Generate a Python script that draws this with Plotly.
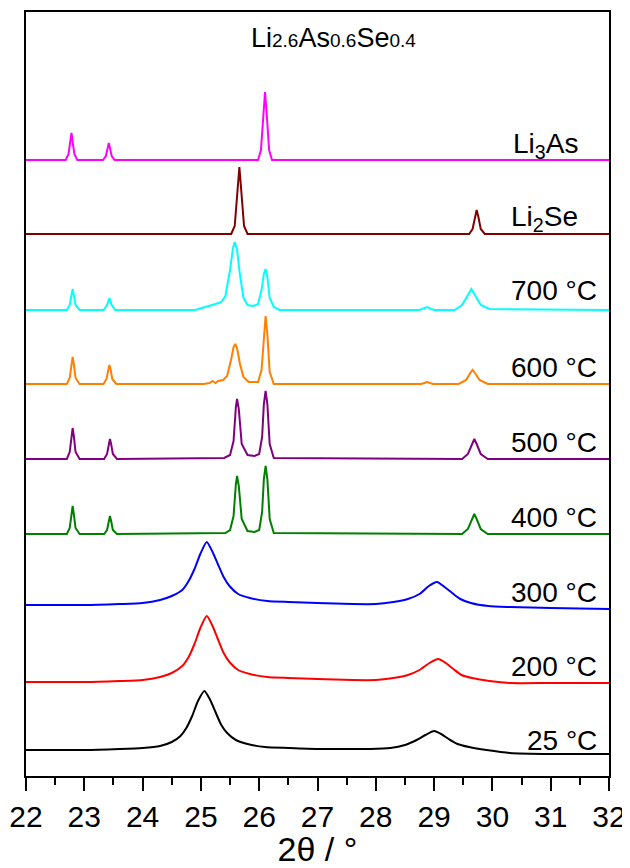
import plotly.graph_objects as go

# ---------------- data ----------------
# intensities are relative to each pattern's own baseline (a.u.)
labels = ["25 °C", "200 °C", "300 °C", "400 °C", "500 °C", "600 °C", "700 °C",
          "Li<sub>2</sub>Se", "Li<sub>3</sub>As"]
offsets = [26, 95, 172, 242, 317, 392, 466, 542, 616]
colors = ["#000000", "#FF0000", "#0000FF", "#008000", "#800080", "#FF8000",
          "#00FFFF", "#800000", "#FF00FF"]

x_25 = [22.0, 23.0, 23.6, 24.0, 24.3, 24.5, 24.65, 24.75, 24.85, 24.95, 25.06, 25.16,
        25.25, 25.35, 25.45, 25.6, 25.8, 26.1, 26.5, 27.0, 27.5, 27.9, 28.25, 28.5,
        28.7, 28.85, 29.0, 29.12, 29.25, 29.4, 29.6, 29.9, 30.3, 31.0, 32.0]
y_25 = [0, 0, 1, 2, 4, 8, 14, 22, 34, 49, 59, 50,
        38, 25, 17, 10, 6, 3, 2, 1, 1, 1, 2, 5,
        10, 15, 19, 16, 11, 6, 3, 0, -3, -4, -4]

x_200 = [22.0, 23.0, 23.6, 24.0, 24.3, 24.5, 24.68, 24.79, 24.89, 24.99, 25.1, 25.2,
         25.29, 25.39, 25.49, 25.64, 25.84, 26.14, 26.5, 27.0, 27.6, 28.0, 28.3, 28.55,
         28.75, 28.92, 29.07, 29.2, 29.33, 29.47, 29.65, 29.95, 30.3, 31.0, 32.0]
y_200 = [-1, -1, 0, 1, 4, 8, 15, 24, 37, 53, 65, 55,
         42, 28, 19, 11, 7, 4, 3, 2, 1, 1, 3, 6,
         11, 18, 22, 18, 12, 6, 3, 0, -2, -2, -2]

x_300 = [22.0, 23.0, 23.6, 24.0, 24.3, 24.5, 24.68, 24.79, 24.89, 24.99, 25.1, 25.2,
         25.29, 25.39, 25.49, 25.64, 25.84, 26.14, 26.5, 27.0, 27.6, 28.0, 28.3, 28.55,
         28.75, 28.91, 29.05, 29.18, 29.31, 29.45, 29.63, 29.93, 30.3, 31.0, 32.0]
y_300 = [-1, -1, 0, 1, 4, 8, 14, 23, 35, 50, 62, 52,
         40, 27, 18, 10, 6, 3, 2, 1, 0, 0, 2, 5,
         10, 18, 22, 17, 11, 5, 1, -2, -3, -4, -5]

x_400 = [22.0, 22.70, 22.75, 22.78, 22.80, 22.82, 22.85, 22.92,
         23.34, 23.39, 23.42, 23.44, 23.46, 23.49, 23.56,
         25.42, 25.50, 25.56, 25.60, 25.62, 25.65, 25.70, 25.80,
         25.92, 26.00, 26.05, 26.08, 26.11, 26.14, 26.18, 26.25,
         29.48, 29.58, 29.65, 29.69, 29.73, 29.80, 29.92, 32.0]
y_400 = [0, 0, 6, 20, 28, 20, 6, 0,
         0, 4, 13, 18, 13, 4, 0,
         1, 4, 18, 50, 58, 48, 15, 3,
         2, 4, 22, 55, 68, 55, 15, 1,
         0, 5, 15, 20, 15, 5, 0, 0]

x_500 = [22.0, 22.70, 22.75, 22.78, 22.80, 22.82, 22.85, 22.92,
         23.34, 23.39, 23.42, 23.44, 23.46, 23.49, 23.56,
         25.40, 25.50, 25.56, 25.60, 25.62, 25.65, 25.70, 25.80,
         25.92, 26.00, 26.05, 26.08, 26.11, 26.14, 26.18, 26.25,
         29.48, 29.58, 29.65, 29.69, 29.73, 29.80, 29.92, 32.0]
y_500 = [0, 0, 7, 23, 31, 23, 7, 0,
         0, 5, 15, 20, 15, 5, 0,
         1, 4, 18, 52, 60, 50, 15, 4,
         3, 5, 22, 55, 68, 55, 15, 1,
         0, 5, 15, 20, 15, 5, 0, 0]

x_600 = [22.0, 22.70, 22.75, 22.78, 22.80, 22.82, 22.85, 22.92,
         23.33, 23.38, 23.41, 23.43, 23.45, 23.48, 23.55,
         25.05, 25.15, 25.20, 25.25, 25.30, 25.38, 25.45, 25.52, 25.56, 25.59, 25.62,
         25.67, 25.73, 25.82, 25.98, 26.04, 26.08, 26.11, 26.14, 26.18, 26.25,
         28.78, 28.88, 28.98, 29.42, 29.55, 29.62, 29.66, 29.70, 29.78, 29.92, 32.0]
y_600 = [0, 0, 6, 20, 27, 20, 6, 0,
         0, 5, 15, 19, 15, 5, 0,
         0, 1, 3, 1, 3, 4, 8, 25, 37, 40, 36,
         20, 7, 2, 2, 14, 50, 68, 50, 12, 0,
         0, 2, 0, 0, 4, 11, 14, 11, 4, 0, 0]

x_700 = [22.0, 22.70, 22.75, 22.78, 22.80, 22.82, 22.85, 22.92,
         23.33, 23.39, 23.43, 23.47, 23.53,
         24.90, 25.10, 25.25, 25.35, 25.42, 25.50, 25.55, 25.58, 25.62, 25.67, 25.73,
         25.80, 25.90, 25.98, 26.04, 26.08, 26.11, 26.14, 26.18, 26.25, 26.35,
         28.75, 28.88, 29.00, 29.35, 29.48, 29.57, 29.64, 29.71, 29.80, 29.95, 32.0]
y_700 = [0, 0, 5, 15, 21, 15, 5, 0,
         0, 5, 12, 5, 0,
         0, 3, 6, 8, 14, 40, 62, 68, 60, 35, 12,
         5, 4, 6, 20, 36, 41, 33, 12, 3, 0,
         0, 3, 0, 0, 5, 14, 21, 14, 5, 1, 0]

x_li2se = [22.0, 25.52, 25.58, 25.63, 25.66, 25.69, 25.74, 25.80,
           29.60, 29.66, 29.70, 29.73, 29.76, 29.80, 29.87, 32.0]
y_li2se = [0, 0, 8, 45, 67, 45, 8, 0,
           0, 5, 17, 24, 17, 5, 0, 0]

x_li3as = [22.0, 22.68, 22.73, 22.76, 22.78, 22.80, 22.83, 22.88,
           23.32, 23.37, 23.40, 23.42, 23.44, 23.47, 23.52,
           25.98, 26.03, 26.07, 26.10, 26.13, 26.17, 26.22, 32.0]
y_li3as = [0, 0, 6, 18, 27, 18, 6, 0,
           0, 4, 12, 17, 12, 4, 0,
           0, 10, 45, 68, 45, 10, 0, 0]

xs = [x_25, x_200, x_300, x_400, x_500, x_600, x_700, x_li2se, x_li3as]
ys = [y_25, y_200, y_300, y_400, y_500, y_600, y_700, y_li2se, y_li3as]
broad = [True, True, True, False, False, False, False, False, False]

# label vertical positions (a.u., same scale as the stacked curves)
label_y = [36, 110, 184, 259, 334, 409, 486, 558, 631]
label_x = [31.83, 31.83, 31.83, 31.83, 31.83, 31.83, 31.83, 31.50, 31.50]

title_text = ("Li<span style='font-size:19px'>2.6</span>As"
              "<span style='font-size:19px'>0.6</span>Se"
              "<span style='font-size:19px'>0.4</span>")

fig = go.Figure()
for xv, yv, off, col, br in zip(xs, ys, offsets, colors, broad):
    fig.add_trace(go.Scatter(
        x=xv, y=[v + off for v in yv], mode="lines",
        line=dict(color=col, width=2, shape="spline" if br else "linear",
                  smoothing=0.6 if br else 0),
        showlegend=False, hoverinfo="skip"))

for lab, lx, ly in zip(labels, label_x, label_y):
    fig.add_annotation(x=lx, y=ly, xref="x", yref="y", text=lab, showarrow=False,
                       xanchor="right", yanchor="middle",
                       font=dict(family="Liberation Sans, Arial", size=28, color="#000"))

fig.add_annotation(x=0.527, y=738, xref="paper", yref="y", text=title_text,
                   showarrow=False, xanchor="center", yanchor="middle",
                   font=dict(family="Liberation Sans, Arial", size=27, color="#000"))

# the page body has an 8 px margin, so the figure is 8 px smaller than the window
fig.update_layout(
    width=622, height=860,
    margin=dict(l=18, r=21, t=4, b=92, autoexpand=False),
    paper_bgcolor="white", plot_bgcolor="white",
    font=dict(family="Liberation Sans, Arial", color="#000"),
    xaxis=dict(range=[22, 32], dtick=1, tick0=22, showgrid=False, zeroline=False,
               automargin=False,
               showline=True, linecolor="black", linewidth=2, mirror=True,
               ticks="outside", ticklen=13, tickwidth=2, tickcolor="black",
               minor=dict(dtick=0.5, ticks="outside", ticklen=7, tickwidth=2,
                          tickcolor="black", showgrid=False),
               tickfont=dict(size=30, family="Liberation Sans, Arial"),
               ticklabelstandoff=0,
               title=dict(text="2θ / °", font=dict(size=34, family="Liberation Sans, Arial"),
                          standoff=4)),
    yaxis=dict(range=[0, 764], showgrid=False, zeroline=False, showticklabels=False,
               automargin=False,
               showline=True, linecolor="black", linewidth=2, mirror=True, ticks=""),
)

fig.write_html("out.html")
